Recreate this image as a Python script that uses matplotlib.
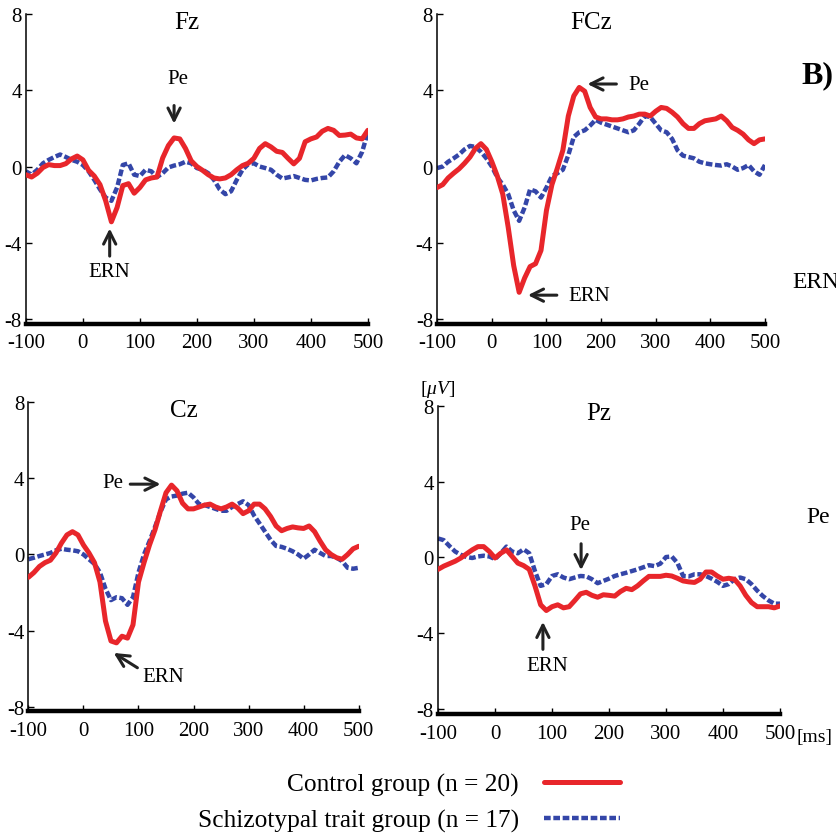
import numpy as np
import matplotlib
matplotlib.use("Agg")
import matplotlib.pyplot as plt

plt.rcParams['font.family'] = ['Liberation Serif', 'DejaVu Serif']
plt.rcParams['mathtext.fontset'] = 'custom'
plt.rcParams['mathtext.it'] = 'Liberation Serif:italic'
plt.rcParams['mathtext.rm'] = 'Liberation Serif'
plt.rcParams['axes.unicode_minus'] = False

# time axis in ms (10 ms steps)
t = np.arange(-100, 501, 10)

fz_control = [-0.43, -0.55, -0.35, -0.05, 0.1, 0.05, 0.05, 0.15, 0.4, 0.55,
              0.35, -0.2, -0.5, -0.95, -1.8, -2.9, -2.15, -1.0, -0.9, -1.4,
              -1.1, -0.7, -0.6, -0.55, 0.45, 1.1, 1.5, 1.45, 0.95, 0.3,
              0.0, -0.2, -0.43, -0.6, -0.65, -0.6, -0.43, -0.17, 0.05, 0.17,
              0.43, 0.95, 1.2, 1.03, 0.8, 0.74, 0.43, 0.14, 0.43, 1.3,
              1.45, 1.55, 1.85, 2.0, 1.9, 1.63, 1.65, 1.7, 1.5, 1.45, 1.9]
fz_schizo = [-0.25, -0.43, -0.17, 0.17, 0.35, 0.5, 0.63, 0.5, 0.35, 0.25,
             0.08, -0.25, -0.7, -1.2, -1.63, -1.8, -1.1, 0.08, 0.17, -0.43,
             -0.5, -0.17, -0.25, -0.55, -0.35, -0.05, 0.05, 0.12, 0.25, 0.17,
             -0.08, -0.17, -0.35, -0.7, -1.2, -1.45, -1.3, -0.7, -0.17, 0.12,
             0.17, 0.0, -0.08, -0.17, -0.43, -0.63, -0.57, -0.5, -0.6, -0.7,
             -0.73, -0.65, -0.6, -0.57, -0.25, 0.25, 0.6, 0.43, 0.17, 0.77, 1.8]

fcz_control = [-1.1, -0.95, -0.6, -0.35, -0.12, 0.17, 0.5, 0.95, 1.2, 0.9,
               0.25, -0.5, -1.45, -3.2, -5.2, -6.6, -5.85, -5.25, -5.1, -4.4,
               -2.3, -0.95, -0.08, 0.85, 2.65, 3.7, 4.15, 3.95, 3.1, 2.6,
               2.5, 2.5, 2.45, 2.45, 2.5, 2.6, 2.65, 2.75, 2.75, 2.65,
               2.9, 3.1, 3.05, 2.85, 2.6, 2.25, 2.0, 2.0, 2.25, 2.4,
               2.45, 2.5, 2.65, 2.4, 2.05, 1.9, 1.7, 1.4, 1.2, 1.4, 1.45]
fcz_schizo = [-0.08, 0.0, 0.25, 0.43, 0.63, 0.9, 1.08, 1.03, 0.77, 0.43,
              0.0, -0.57, -0.95, -1.45, -2.3, -2.85, -2.15, -1.2, -1.3, -1.63,
              -1.1, -0.5, -0.35, -0.17, 0.6, 1.55, 1.8, 1.9, 2.15, 2.45,
              2.3, 2.2, 2.1, 2.0, 1.9, 1.8, 1.9, 2.25, 2.65, 2.6,
              2.25, 1.9, 1.8, 1.45, 0.85, 0.57, 0.5, 0.43, 0.25, 0.17,
              0.12, 0.08, 0.05, 0.12, 0.0, -0.17, -0.08, 0.08, -0.25, -0.43, 0.08]

cz_control = [-1.2, -0.95, -0.63, -0.43, -0.3, 0.08, 0.6, 1.03, 1.2, 1.03,
              0.5, 0.08, -0.43, -1.45, -3.5, -4.55, -4.65, -4.3, -4.4, -3.7,
              -1.45, -0.43, 0.5, 1.3, 2.3, 3.25, 3.65, 3.35, 2.7, 2.4,
              2.4, 2.5, 2.6, 2.65, 2.5, 2.4, 2.5, 2.65, 2.45, 2.15,
              2.3, 2.65, 2.65, 2.4, 2.0, 1.5, 1.25, 1.37, 1.45, 1.4,
              1.37, 1.5, 1.2, 0.7, 0.25, 0.0, -0.17, -0.25, 0.0, 0.3, 0.43]
cz_schizo = [-0.25, -0.17, -0.08, 0.0, 0.08, 0.22, 0.3, 0.25, 0.22, 0.17,
             0.0, -0.25, -0.5, -0.95, -1.8, -2.4, -2.25, -2.3, -2.65, -2.25,
             -0.95, 0.0, 0.7, 1.45, 2.25, 2.9, 3.05, 3.1, 3.2, 3.25,
             3.0, 2.65, 2.6, 2.5, 2.4, 2.3, 2.3, 2.5, 2.65, 2.8,
             2.6, 2.05, 1.63, 1.2, 0.77, 0.45, 0.4, 0.3, 0.17, 0.0,
             -0.22, 0.0, 0.25, 0.08, -0.08, -0.08, -0.17, -0.35, -0.7, -0.75, -0.7]

pz_control = [-0.63, -0.46, -0.33, -0.2, -0.03, 0.19, 0.4, 0.57, 0.57, 0.31,
              -0.03, 0.22, 0.4, 0.05, -0.3, -0.43, -0.63, -1.5, -2.5, -2.8,
              -2.6, -2.5, -2.66, -2.6, -2.27, -1.92, -1.84, -2.0, -2.1, -1.97,
              -2.0, -2.04, -1.8, -1.63, -1.7, -1.5, -1.24, -1.0, -1.0, -1.0,
              -0.94, -0.98, -1.1, -1.24, -1.29, -1.32, -1.15, -0.77, -0.77, -0.98,
              -1.15, -1.1, -1.15, -1.5, -2.0, -2.38, -2.6, -2.6, -2.6, -2.66, -2.56]
pz_schizo = [1.0, 0.91, 0.6, 0.31, 0.14, 0.02, -0.03, 0.05, 0.09, 0.05,
             -0.09, 0.22, 0.57, 0.31, 0.22, 0.43, 0.22, -0.72, -1.5, -1.41,
             -0.98, -0.89, -1.06, -1.15, -1.06, -0.98, -1.0, -1.15, -1.36, -1.24,
             -1.12, -0.98, -0.89, -0.81, -0.72, -0.63, -0.52, -0.41, -0.46, -0.33,
             0.02, 0.05, -0.29, -0.98, -1.0, -0.89, -0.89, -0.98, -1.12, -1.29,
             -1.5, -1.41, -1.15, -1.06, -1.15, -1.41, -1.75, -2.04, -2.27, -2.44, -2.44]

xticks = [-100, 0, 100, 200, 300, 400, 500]
yticks = [-8, -4, 0, 4, 8]

red = '#e8262b'
blue = '#3446a8'

fig = plt.figure(figsize=(8.36, 8.37), dpi=100)

# axes rectangles (left, bottom, width, height)
rects = {'Fz': [0.031, 0.612, 0.409, 0.370],
         'FCz': [0.523, 0.612, 0.392, 0.370],
         'Cz': [0.034, 0.149, 0.395, 0.369],
         'Pz': [0.524, 0.146, 0.409, 0.368]}
series = {'Fz': (fz_control, fz_schizo),
          'FCz': (fcz_control, fcz_schizo),
          'Cz': (cz_control, cz_schizo),
          'Pz': (pz_control, pz_schizo)}

axes = {}
for name in ['Fz', 'FCz', 'Cz', 'Pz']:
    ax = fig.add_axes(rects[name])
    c, s = series[name]
    lc, = ax.plot(t, c, color=red, lw=3.6, solid_capstyle='round', zorder=3,
                  label='Control group (n = 20)')
    ls, = ax.plot(t, s, color=blue, lw=3.2, dashes=(1.5, 0.6), zorder=2,
                  label='Schizotypal trait group (n = 17)')
    ax.set_xlim(-100, 500)
    ax.set_ylim(-8.25, 8)
    ax.set_xticks(xticks)
    ax.set_yticks(yticks)
    ax.spines['top'].set_visible(False)
    ax.spines['right'].set_visible(False)
    ax.spines['left'].set_linewidth(1.1)
    ax.spines['bottom'].set_linewidth(3.2)
    ax.tick_params(direction='in', length=4, width=1, labelsize=15)
    ax.tick_params(axis='x', pad=7)
    ax.tick_params(axis='y', pad=3)
    ax.text(0.47, 0.975, name, transform=ax.transAxes, ha='center', va='center',
            fontsize=18)
    axes[name] = ax

arrow = dict(arrowstyle='->', lw=2.2, color='#222222', mutation_scale=22,
             shrinkA=0, shrinkB=0)
fs = 15

ax = axes['Fz']
ax.annotate('', xy=(160, 2.25), xytext=(160, 3.2), arrowprops=arrow)
ax.text(166, 4.6, 'Pe', ha='center', va='center', fontsize=fs)
ax.annotate('', xy=(47, -3.25), xytext=(47, -4.7), arrowprops=arrow)
ax.text(46, -5.5, 'ERN', ha='center', va='center', fontsize=fs)

ax = axes['FCz']
ax.annotate('', xy=(175, 4.33), xytext=(228, 4.33), arrowprops=arrow)
ax.text(270, 4.33, 'Pe', ha='center', va='center', fontsize=fs)
ax.annotate('', xy=(66, -6.75), xytext=(119, -6.75), arrowprops=arrow)
ax.text(179, -6.75, 'ERN', ha='center', va='center', fontsize=fs)

ax = axes['Cz']
ax.annotate('', xy=(140, 3.7), xytext=(85, 3.7), arrowprops=arrow)
ax.text(53, 3.8, 'Pe', ha='center', va='center', fontsize=fs)
ax.annotate('', xy=(55, -5.18), xytext=(98, -5.96), arrowprops=arrow)
ax.text(145, -6.4, 'ERN', ha='center', va='center', fontsize=fs)

ax = axes['Pz']
ax.annotate('', xy=(151, -0.67), xytext=(151, 0.72), arrowprops=arrow)
ax.text(149, 1.75, 'Pe', ha='center', va='center', fontsize=fs)
ax.annotate('', xy=(84, -3.4), xytext=(84, -4.85), arrowprops=arrow)
ax.text(91, -5.7, 'ERN', ha='center', va='center', fontsize=fs)

# loose labels around the panels
fig.text(0.959, 0.910, 'B)', fontsize=23, fontweight='bold', va='center')
fig.text(0.948, 0.662, 'ERN', fontsize=17, va='center')
fig.text(0.965, 0.382, 'Pe', fontsize=17, va='center')
fig.text(0.953, 0.119, '[ms]', fontsize=14, va='center')
fig.text(0.502, 0.535, r'[$\mathit{\mu V}$]', fontsize=14, va='center')

fig.legend(handles=[lc, ls], loc='center right', bbox_to_anchor=(0.742, 0.040),
           frameon=False, markerfirst=False, fontsize=18.3, handlelength=3.0,
           handletextpad=1.0, labelspacing=0.5, borderpad=0, borderaxespad=0)

fig.savefig('out.png', dpi=100)
